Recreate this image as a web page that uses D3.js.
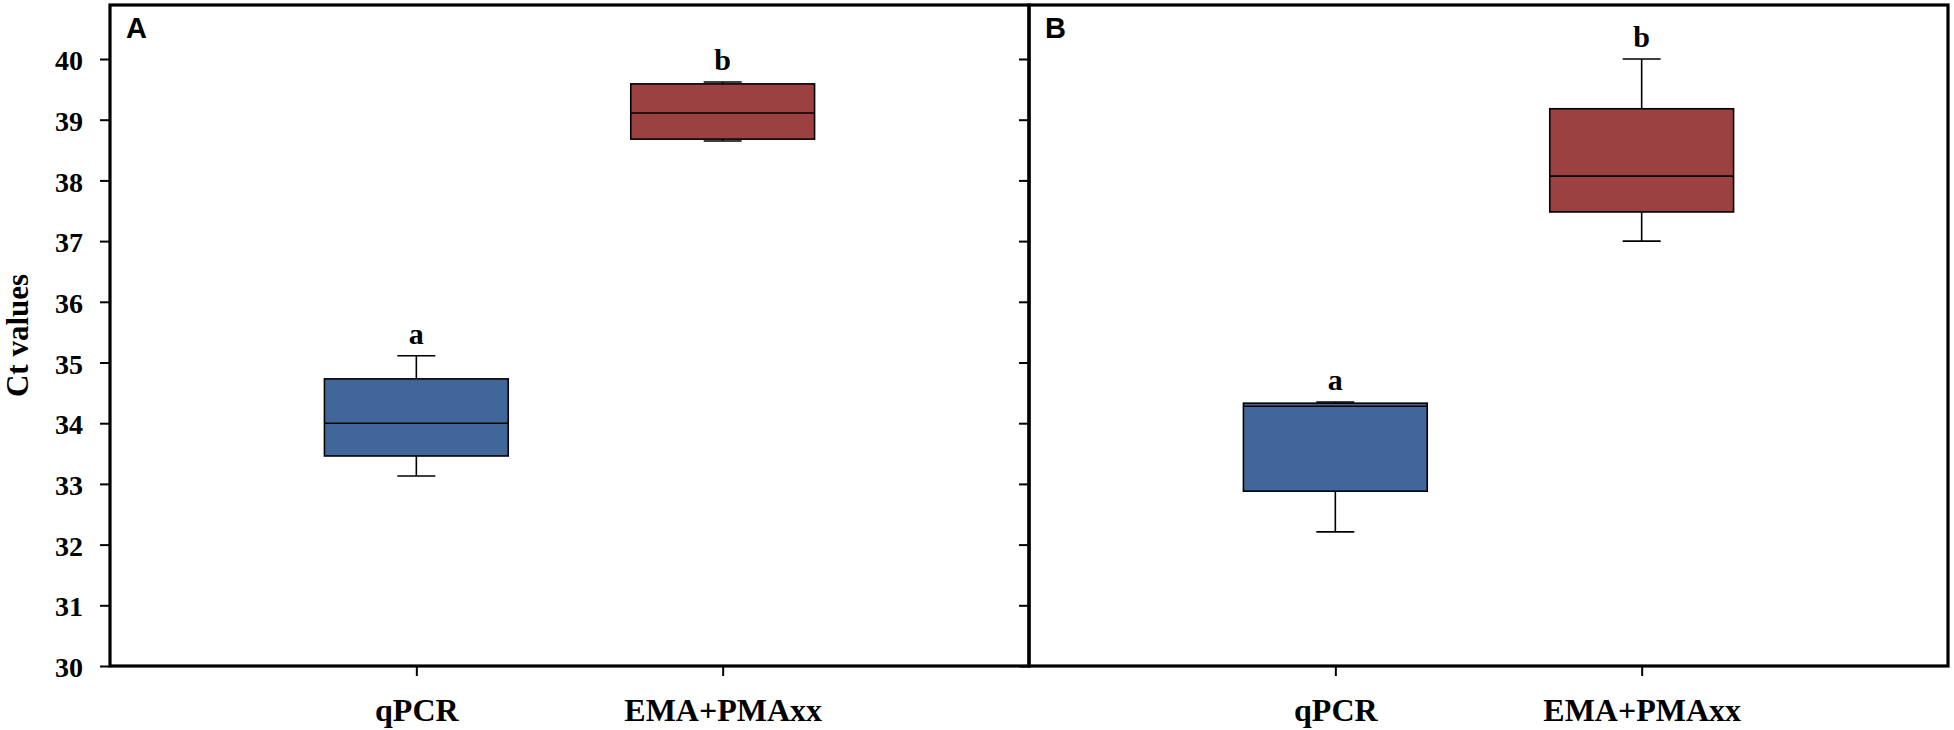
<!DOCTYPE html>
<html>
<head>
<meta charset="utf-8">
<script src="https://cdn.jsdelivr.net/npm/d3@7"></script>
<style>
  html, body { margin: 0; padding: 0; background: #ffffff; }
  svg { display: block; }
</style>
</head>
<body>
<svg id="chart" width="1954" height="730"></svg>
<script>
// ---- data ----
const categories = ["qPCR", "EMA+PMAxx"];
const panelNames = ["A", "B"];
const yTicks = [30, 31, 32, 33, 34, 35, 36, 37, 38, 39, 40];
const groupLetters = ["a", "b"];
const fillColors = ["#41679A", "#9B4142"];

// Panel A
const A_low    = [33.13, 38.65];
const A_q1     = [33.46, 38.68];
const A_median = [34.00, 39.11];
const A_q3     = [34.73, 39.59];
const A_high   = [35.11, 39.62];

// Panel B
const B_low    = [32.21, 37.00];
const B_q1     = [32.88, 37.48];
const B_median = [34.28, 38.07];
const B_q3     = [34.33, 39.18];
const B_high   = [34.35, 40.00];

const panelData = [
  { name: panelNames[0], low: A_low, q1: A_q1, median: A_median, q3: A_q3, high: A_high },
  { name: panelNames[1], low: B_low, q1: B_q1, median: B_median, q3: B_q3, high: B_high }
];

// ---- layout ----
const svg = d3.select("#chart");
const plotTop = 5, plotBottom = 666;
const panelLefts = [110, 1029];
const panelWidth = 919;
const serif = "'Liberation Serif', 'Times New Roman', serif";
const sans = "'Liberation Sans', Arial, sans-serif";

const y = d3.scaleLinear().domain([30, 40]).range([plotBottom, 59]);

panelData.forEach((p, pi) => {
  const x0 = panelLefts[pi];
  const x = d3.scalePoint().domain(categories).range([x0, x0 + panelWidth]).padding(1);
  const boxW = x.step() * 0.6;
  const capW = 38;
  const g = svg.append("g");

  // Frame
  g.append("rect")
    .attr("x", x0).attr("y", plotTop)
    .attr("width", panelWidth).attr("height", plotBottom - plotTop)
    .attr("fill", "none").attr("stroke", "#000").attr("stroke-width", 3.2);

  // Y axis ticks
  const yAxis = d3.axisLeft(y).tickValues(yTicks).tickSize(10).tickPadding(17)
    .tickFormat(pi === 0 ? d3.format("d") : () => "");
  const ya = g.append("g").attr("transform", `translate(${x0},0)`).call(yAxis);
  ya.select(".domain").remove();
  ya.selectAll(".tick line").attr("stroke", "#000").attr("stroke-width", 2);
  ya.selectAll(".tick text")
    .attr("font-family", serif).attr("font-weight", "bold")
    .attr("font-size", 28).attr("fill", "#000").attr("dy", "0.38em");

  // X axis ticks
  const xAxis = d3.axisBottom(x).tickSize(10).tickPadding(22);
  const xa = g.append("g").attr("transform", `translate(0,${plotBottom})`).call(xAxis);
  xa.select(".domain").remove();
  xa.selectAll(".tick line").attr("stroke", "#000").attr("stroke-width", 2);
  xa.selectAll(".tick text")
    .attr("font-family", serif).attr("font-weight", "bold")
    .attr("font-size", 32).attr("fill", "#000");

  // Boxes
  categories.forEach((c, i) => {
    const cx = x(c);
    const bg = g.append("g");
    bg.append("line").attr("x1", cx).attr("x2", cx)
      .attr("y1", y(p.q3[i])).attr("y2", y(p.high[i]))
      .attr("stroke", "#000").attr("stroke-width", 1.6);
    bg.append("line").attr("x1", cx).attr("x2", cx)
      .attr("y1", y(p.q1[i])).attr("y2", y(p.low[i]))
      .attr("stroke", "#000").attr("stroke-width", 1.6);
    bg.append("line").attr("x1", cx - capW / 2).attr("x2", cx + capW / 2)
      .attr("y1", y(p.high[i])).attr("y2", y(p.high[i]))
      .attr("stroke", "#000").attr("stroke-width", 1.6);
    bg.append("line").attr("x1", cx - capW / 2).attr("x2", cx + capW / 2)
      .attr("y1", y(p.low[i])).attr("y2", y(p.low[i]))
      .attr("stroke", "#000").attr("stroke-width", 1.6);
    bg.append("rect")
      .attr("x", cx - boxW / 2).attr("y", y(p.q3[i]))
      .attr("width", boxW).attr("height", y(p.q1[i]) - y(p.q3[i]))
      .attr("fill", fillColors[i]).attr("stroke", "#000").attr("stroke-width", 1.6);
    bg.append("line").attr("x1", cx - boxW / 2).attr("x2", cx + boxW / 2)
      .attr("y1", y(p.median[i])).attr("y2", y(p.median[i]))
      .attr("stroke", "#000").attr("stroke-width", 1.6);
    bg.append("text")
      .attr("x", cx).attr("y", y(p.high[i]) - 12)
      .attr("text-anchor", "middle")
      .attr("font-family", serif).attr("font-weight", "bold")
      .attr("font-size", 30).attr("fill", "#000")
      .text(groupLetters[i]);
  });

  // Panel letter
  g.append("text")
    .attr("x", x0 + 16).attr("y", 38)
    .attr("font-family", sans).attr("font-weight", "bold")
    .attr("font-size", 29).attr("fill", "#000")
    .text(p.name);
});

// Y axis title
svg.append("text")
  .attr("transform", `translate(28,${(plotBottom + plotTop) / 2}) rotate(-90)`)
  .attr("text-anchor", "middle")
  .attr("font-family", serif).attr("font-weight", "bold")
  .attr("font-size", 31).attr("fill", "#000")
  .text("Ct values");
</script>
</body>
</html>
